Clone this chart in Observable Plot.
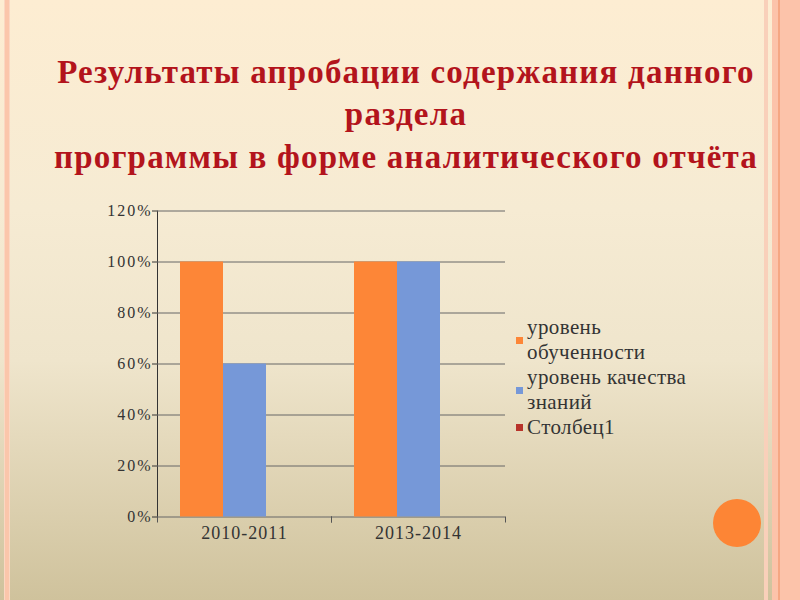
<!DOCTYPE html>
<html>
<head>
<meta charset="utf-8">
<script src="https://cdn.jsdelivr.net/npm/d3@7"></script>
<script src="https://cdn.jsdelivr.net/npm/@observablehq/plot@0.6"></script>
<style>
  html, body { margin: 0; padding: 0; }
  #slide {
    position: relative; width: 800px; height: 600px; overflow: hidden;
    background: linear-gradient(to bottom, #fdedd2 0%, #f6ebd3 35%, #efe5cc 60%, #cfc29c 100%);
    font-family: "Liberation Serif", Tinos, "Times New Roman", Times, serif;
  }
  .stripe { position: absolute; top: 0; height: 600px; }
  #title {
    position: absolute; left: 50px; width: 712px; top: 50.5px;
    text-align: center; font-weight: bold; font-size: 33px; line-height: 42.5px;
    color: #b3141c; letter-spacing: 1.2px; white-space: nowrap;
  }
  #legend { position: absolute; left: 516px; top: 315px; color: #333; font-size: 21px; line-height: 25px; letter-spacing: 0.4px; }
  .item { display: flex; align-items: center; }
  .swatch { width: 7px; height: 7px; margin-right: 4px; flex: none; }
  #chart svg { position: absolute; left: 0; top: 180px; overflow: visible; }
  #chart svg text { font-family: "Liberation Serif", Tinos, "Times New Roman", Times, serif; }
  #chart svg [aria-label^="y-axis"] text { font-size: 16px; letter-spacing: 2px; }
  #chart svg [aria-label^="fx-axis"] text { font-size: 18px; letter-spacing: 1px; }
  #circle { position: absolute; left: 713px; top: 499px; width: 48px; height: 48px; border-radius: 50%; background: #fd8535; }
</style>
</head>
<body>
<div id="slide">
  <div class="stripe" style="left:4px;width:6px;background:#fbc6ab;"></div>
  <div class="stripe" style="left:4px;width:1px;background:#fbd7c2;"></div>
  <div class="stripe" style="left:9px;width:1px;background:#fbd7c2;"></div>
  <div class="stripe" style="left:764px;width:4px;background:#f9d0ba;"></div>
  <div class="stripe" style="left:772px;width:28px;background:#fcc3aa;"></div>
  <div class="stripe" style="left:778px;width:2px;background:#f5a783;"></div>
  <div id="title">Результаты апробации содержания данного<br>раздела<br>программы в форме аналитического отчёта</div>
  <div id="chart"></div>
  <div id="legend"></div>
  <div id="circle"></div>
</div>
<script>
// ---- data ----
const categories = ["2010-2011", "2013-2014"];
const seriesNames = ["уровень обученности", "уровень качества знаний", "Столбец1"];
const legendLines = [["уровень", "обученности"], ["уровень качества", "знаний"], ["Столбец1"]];
const seriesColors = ["#fd8637", "#7698d8", "#b8332a"];
const obuchennost = [1.0, 1.0];
const kachestvo = [0.6, 1.0];
const stolbec1 = [0, 0];
const yTicks = [0, 0.2, 0.4, 0.6, 0.8, 1.0, 1.2];

const seriesValues = [obuchennost, kachestvo, stolbec1];
const data = categories.flatMap((c, i) =>
  seriesNames.map((s, j) => ({cat: c, series: s, value: seriesValues[j][i]})));

const W = 520, H = 380, mT = 30.5, mB = 43.5;
const plotH = H - mT - mB;

const chart = Plot.plot({
  width: W, height: H,
  marginLeft: 156, marginRight: 15, marginTop: mT, marginBottom: mB,
  style: {background: "transparent", color: "#333", overflow: "visible"},
  fx: {domain: categories, paddingInner: 0, paddingOuter: 0, label: null, axis: "bottom", tickSize: 0, tickPadding: 9},
  x: {domain: seriesNames, paddingInner: 0, paddingOuter: 0.5, axis: null},
  y: {domain: [0, 1.2], ticks: yTicks, tickFormat: d3.format(".0%"), tickSize: 5, tickPadding: 0, label: null, line: true},
  color: {domain: seriesNames, range: seriesColors},
  marks: [
    Plot.ruleY(yTicks, {stroke: "#666", strokeWidth: 1}),
    Plot.barY(data, {fx: "cat", x: "series", y: "value", fill: "series"}),
    Plot.frame({anchor: "left", stroke: "#555", insetTop: plotH, insetBottom: -5}),
    Plot.frame({anchor: "right", stroke: "#555", insetTop: plotH, insetBottom: -5})
  ]
});
document.getElementById("chart").appendChild(chart);

const legend = document.getElementById("legend");
seriesNames.forEach((s, i) => {
  const item = document.createElement("div");
  item.className = "item";
  const sw = document.createElement("div");
  sw.className = "swatch";
  sw.style.background = seriesColors[i];
  const txt = document.createElement("div");
  txt.innerHTML = legendLines[i].join("<br>");
  item.appendChild(sw); item.appendChild(txt);
  legend.appendChild(item);
});
</script>
</body>
</html>
